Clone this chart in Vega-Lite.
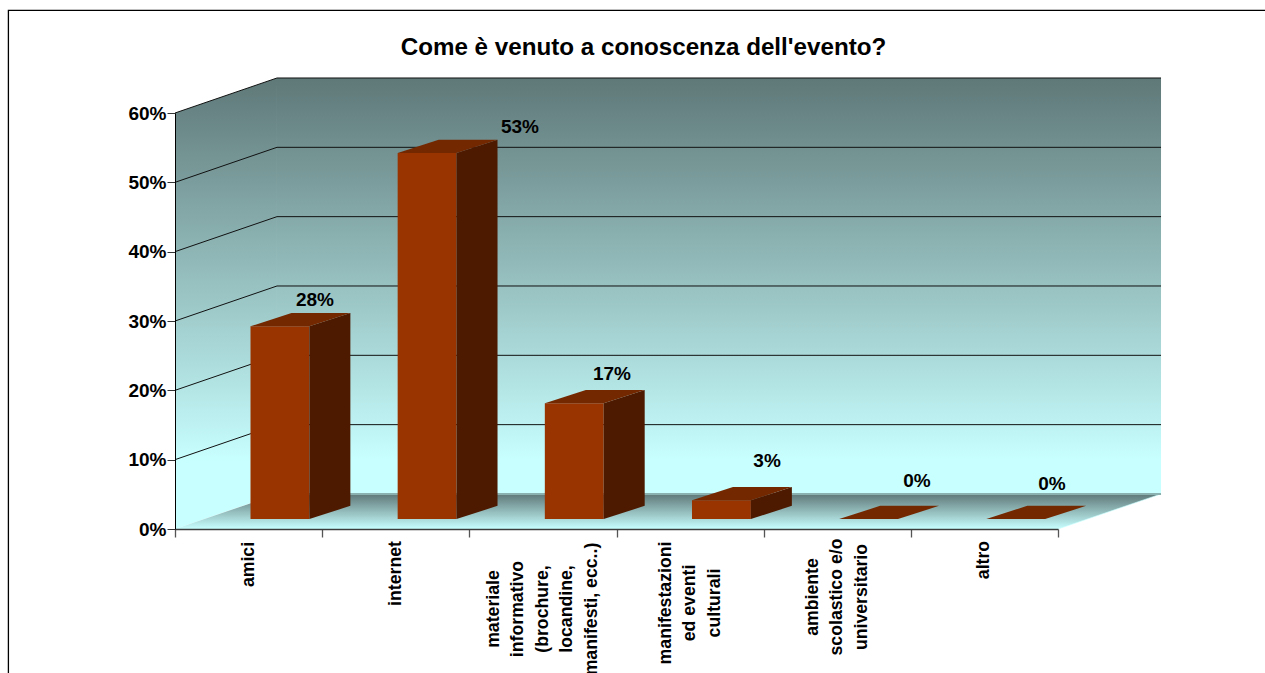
{
"$schema":"https://vega.github.io/schema/vega-lite/v6.json",
"width":1265,"height":673,"padding":0,"autosize":{"type":"none"},
"background":"white",
"view":{"stroke":null},
"title":{"text":"Come è venuto a conoscenza dell'evento?","font":"Liberation Sans","fontSize":24.2,"fontWeight":"bold","color":"#000000","anchor":"middle","frame":"group","dx":11,"offset":-60},
"datasets":{
"bars":[
{"i":0,"category":"amici","label":"amici","value":27.8,"text":"28%"},
{"i":1,"category":"internet","label":"internet","value":52.8,"text":"53%"},
{"i":2,"category":"materiale informativo","label":"materiale\ninformativo\n(brochure,\nlocandine,\nmanifesti, ecc..)","value":16.7,"text":"17%"},
{"i":3,"category":"manifestazioni ed eventi culturali","label":"manifestazioni\ned eventi\nculturali","value":2.7,"text":"3%"},
{"i":4,"category":"ambiente scolastico e/o universitario","label":"ambiente\nscolastico e/o\nuniversitario","value":0,"text":"0%"},
{"i":5,"category":"altro","label":"altro","value":0,"text":"0%"}
],
"square":[{"c":0,"u":0,"v":0},{"c":1,"u":1,"v":0},{"c":2,"u":1,"v":1},{"c":3,"u":0,"v":1}],
"grid":[{"value":10},{"value":20},{"value":30},{"value":40},{"value":50},{"value":60}]
},
"encoding":{
"x":{"field":"x","type":"quantitative","title":null,
 "scale":{"domain":[0,6],"range":[175,1058],"nice":false,"zero":false},
 "axis":{"values":[0,1,2,3,4,5,6],"labels":false,"title":null,"grid":false,"orient":"bottom","offset":-144,"domainColor":"#3c3c3c","domainWidth":1.3,"tickColor":"#555555","tickWidth":1.3,"tickSize":8,"zindex":1}},
"y":{"field":"y","type":"quantitative","title":null,
 "scale":{"domain":[0,60],"range":[529,113],"nice":false,"zero":false},
 "axis":{"values":[0,10,20,30,40,50,60],"labelExpr":"datum.value + '%'","title":null,"grid":false,"orient":"left","offset":-175,"domainColor":"#000000","domainWidth":1,"tickColor":"#333333","tickWidth":1,"tickSize":8,"labelPadding":1,"labelFont":"Liberation Sans","labelFontSize":19,"labelFontWeight":"bold","labelColor":"#000000","zindex":1}}
},
"layer":[
{"data":{"name":"square"},
 "transform":[{"calculate":"0.693*datum.v","as":"x"},{"calculate":"60*datum.u+5.05*datum.v","as":"y"}],
 "mark":{"type":"line","strokeWidth":0,"fill":{"gradient":"linear","x1":0,"y1":0,"x2":0,"y2":1,"stops":[{"offset":0,"color":"#5f7878"},{"offset":0.85,"color":"#c8ffff"},{"offset":1,"color":"#c8ffff"}]}},
 "encoding":{"order":{"field":"c"}}},
{"data":{"name":"square"},
 "transform":[{"calculate":"0.693+6.007*datum.u","as":"x"},{"calculate":"5.05+60*datum.v","as":"y"}],
 "mark":{"type":"line","strokeWidth":0,"fill":{"gradient":"linear","x1":0,"y1":1,"x2":0,"y2":0,"stops":[{"offset":0,"color":"#c8ffff"},{"offset":0.08,"color":"#c8ffff"},{"offset":1,"color":"#5f7878"}]}},
 "encoding":{"order":{"field":"c"}}},
{"data":{"name":"grid"},
 "transform":[{"calculate":"[0,1,2]","as":"c"},{"flatten":["c"]},{"calculate":"[0,0.693,6.7][datum.c]","as":"x"},{"calculate":"datum.value+[0,5.05,5.05][datum.c]","as":"y"}],
 "mark":{"type":"line","stroke":"#111111","strokeWidth":1},
 "encoding":{"order":{"field":"c"},"detail":{"field":"value"}}},
{"data":{"name":"square"},
 "transform":[{"calculate":"6*datum.u+0.7*datum.v","as":"x"},{"calculate":"5.05*datum.v","as":"y"}],
 "mark":{"type":"line","stroke":"#c8ffff","strokeWidth":0.6,"fill":{"gradient":"linear","x1":0,"y1":0,"x2":0,"y2":1,"stops":[{"offset":0,"color":"#5f7878"},{"offset":1,"color":"#c8ffff"}]}},
 "encoding":{"order":{"field":"c"}}},
{"data":{"name":"square"},
 "transform":[{"filter":"datum.v==1"},{"calculate":"0.693+6.007*datum.u","as":"x"},{"calculate":"5.05","as":"y"}],
 "mark":{"type":"line","stroke":"#8ab0b0","strokeWidth":2},
 "encoding":{"order":{"field":"c"}}},
{"data":{"name":"bars"},
 "transform":[{"calculate":"[0,1,2,3]","as":"c"},{"flatten":["c"]},
  {"calculate":"datum.i+0.513+0.4*[0,1,1,0][datum.c]","as":"x"},
  {"calculate":"1.44+datum.value*[0,0,1,1][datum.c]","as":"y"}],
 "mark":{"type":"line","strokeWidth":0,"fill":"#993300"},
 "encoding":{"order":{"field":"c"},"detail":{"field":"i"}}},
{"data":{"name":"bars"},
 "transform":[{"calculate":"[0,1,2,3]","as":"c"},{"flatten":["c"]},
  {"calculate":"datum.i+0.913+0.2786*[0,1,1,0][datum.c]","as":"x"},
  {"calculate":"1.44+1.9*[0,1,1,0][datum.c]+datum.value*[0,0,1,1][datum.c]","as":"y"}],
 "mark":{"type":"line","strokeWidth":0,"fill":"#4d1a00"},
 "encoding":{"order":{"field":"c"},"detail":{"field":"i"}}},
{"data":{"name":"bars"},
 "transform":[{"calculate":"[0,1,2,3]","as":"c"},{"flatten":["c"]},
  {"calculate":"datum.i+0.513+0.4*[0,1,1,0][datum.c]+0.2786*[0,0,1,1][datum.c]","as":"x"},
  {"calculate":"1.44+datum.value+1.9*[0,0,1,1][datum.c]","as":"y"}],
 "mark":{"type":"line","strokeWidth":0,"fill":"#742800"},
 "encoding":{"order":{"field":"c"},"detail":{"field":"i"}}},
{"data":{"name":"bars"},
 "transform":[{"calculate":"datum.i+0.5+[0.451,0.844,0.469,0.523,0.542,0.459][datum.i]","as":"x"},
  {"calculate":"datum.value+[5.23,5.18,5.66,7.11,6.92,6.49][datum.i]","as":"y"}],
 "mark":{"type":"text","font":"Liberation Sans","fontSize":19,"fontWeight":"bold","color":"#000000","align":"center","baseline":"middle"},
 "encoding":{"text":{"field":"text"}}},
{"data":{"name":"bars"},
 "transform":[{"calculate":"split(datum.label,'\\n')","as":"lines"},
  {"calculate":"datum.i+0.5-(length(datum.lines)-1)/2*0.1665","as":"x"},
  {"calculate":"[-5.12,-6.42,-11.54,-10.67,-9.81,-4.47][datum.i]","as":"y"}],
 "mark":{"type":"text","font":"Liberation Sans","fontSize":17.7,"fontWeight":"bold","color":"#000000","align":"center","baseline":"middle","angle":270,"lineHeight":24.5},
 "encoding":{"text":{"field":"lines"}}},
{"data":{"values":[{"x":-1.132,"y":-21},{"x":-1.132,"y":74.8},{"x":7.41,"y":74.8}]},
 "mark":{"type":"line","stroke":"#000000","strokeWidth":1.3},
 "encoding":{}}
],
"config":{"style":{"cell":{"stroke":null}}}
}
